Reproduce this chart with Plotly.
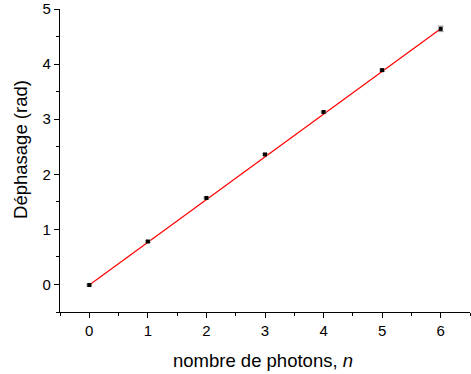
import plotly.graph_objects as go

n_photons = [0, 1, 2, 3, 4, 5, 6]
phase = [-0.01, 0.78, 1.57, 2.36, 3.13, 3.89, 4.64]
phase_err = [0.015, 0.015, 0.015, 0.015, 0.015, 0.02, 0.05]
fit_x = [0, 6]
fit_y = [-0.01, 4.64]
x_title = "nombre de photons, <i>n</i>"
y_title = "Déphasage (rad)"

fig = go.Figure()
fig.add_trace(go.Scatter(x=fit_x, y=fit_y, mode="lines",
                         line=dict(color="red", width=1.2), showlegend=False))
fig.add_trace(go.Scatter(x=n_photons, y=phase, mode="markers",
                         marker=dict(color="black", size=4, symbol="square"),
                         error_y=dict(type="data", array=phase_err, color="#999", thickness=1, width=3),
                         showlegend=False))

font_family = "Liberation Sans, Arial, sans-serif"
fig.update_layout(
    width=471, height=374,
    margin=dict(l=60, r=1, t=9, b=62),
    plot_bgcolor="white", paper_bgcolor="white",
    font=dict(family=font_family, color="black"),
    xaxis=dict(range=[-0.5, 6.5], tickmode="array", tickvals=n_photons,
               showgrid=False, zeroline=False, showline=True, linecolor="black", linewidth=1.2,
               ticks="outside", ticklen=5, tickwidth=1, tickcolor="black",
               minor=dict(ticks="outside", ticklen=3, dtick=0.5, tick0=0.5, tickcolor="black"),
               tickfont=dict(size=15)),
    yaxis=dict(range=[-0.5, 5], tickmode="array", tickvals=[0, 1, 2, 3, 4, 5],
               showgrid=False, zeroline=False, showline=True, linecolor="black", linewidth=1.2,
               ticks="outside", ticklen=5, tickwidth=1, tickcolor="black",
               minor=dict(ticks="outside", ticklen=3, dtick=0.5, tick0=0.5, tickcolor="black"),
               tickfont=dict(size=15)),
    annotations=[
        dict(text=x_title, xref="paper", yref="paper", x=0.27, y=-0.16,
             xanchor="left", yanchor="middle", showarrow=False, font=dict(size=18.5)),
        dict(text=y_title, xref="paper", yref="paper", x=-0.095, y=0.535, textangle=-90,
             xanchor="center", yanchor="middle", showarrow=False, font=dict(size=18.5)),
    ],
)
fig.write_html("out.html", config={"displayModeBar": False},
               post_script="document.body.style.margin='0';")
